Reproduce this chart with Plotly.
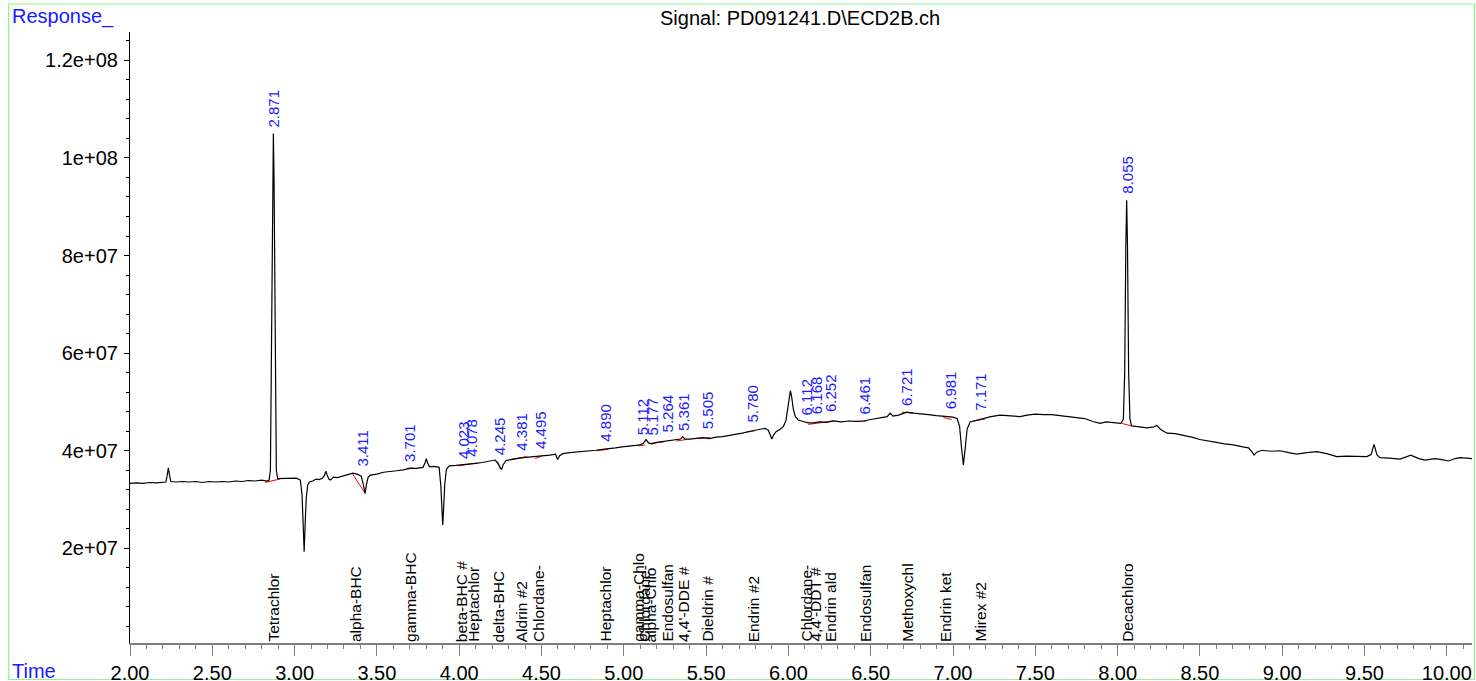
import plotly.graph_objects as go

# ---------------- data ----------------
time_min = [2.000, 2.04, 2.08, 2.12, 2.16, 2.20, 2.218, 2.226, 2.233, 2.240, 2.248, 2.28, 2.32, 2.36, 2.40, 2.44, 2.48, 2.52, 2.56, 2.60,
            2.64, 2.68, 2.72, 2.76, 2.80, 2.83, 2.845, 2.853, 2.861, 2.867, 2.871, 2.875, 2.881, 2.889, 2.897, 2.93, 2.97, 3.01,
            3.035, 3.045, 3.052, 3.058, 3.064, 3.071, 3.08, 3.09, 3.11, 3.13, 3.15, 3.17, 3.182, 3.19, 3.198, 3.208, 3.218, 3.235,
            3.26, 3.29, 3.32, 3.353, 3.38, 3.405, 3.418, 3.428, 3.436, 3.446, 3.46, 3.50, 3.54, 3.58, 3.62, 3.66, 3.70, 3.74, 3.78,
            3.792, 3.80, 3.808, 3.82, 3.85, 3.878, 3.888, 3.895, 3.90, 3.905, 3.912, 3.922, 3.94, 3.98, 4.02, 4.06, 4.10, 4.14,
            4.18, 4.218, 4.235, 4.25, 4.258, 4.268, 4.285, 4.31, 4.35, 4.39, 4.43, 4.47, 4.51, 4.55, 4.585, 4.598, 4.61, 4.63,
            4.67, 4.71, 4.75, 4.79, 4.83, 4.87, 4.91, 4.95, 4.99, 5.03, 5.07, 5.10, 5.12, 5.135, 5.15, 5.17, 5.20, 5.24, 5.28,
            5.33, 5.345, 5.358, 5.372, 5.40, 5.44, 5.48, 5.52, 5.56, 5.60, 5.64, 5.68, 5.72, 5.767, 5.80, 5.835, 5.858, 5.878,
            5.890, 5.899, 5.910, 5.925, 5.95, 5.97, 5.985, 5.995, 6.004, 6.012, 6.020, 6.030, 6.042, 6.06, 6.09, 6.12, 6.152,
            6.19, 6.23, 6.273, 6.32, 6.37, 6.41, 6.455, 6.50, 6.557, 6.60, 6.618, 6.635, 6.67, 6.719, 6.76, 6.80, 6.85, 6.90,
            6.962, 7.00, 7.025, 7.040, 7.052, 7.063, 7.074, 7.086, 7.104, 7.14, 7.185, 7.23, 7.286, 7.33, 7.37, 7.407, 7.45,
            7.50, 7.55, 7.60, 7.65, 7.70, 7.75, 7.80, 7.85, 7.893, 7.93, 7.974, 8.02, 8.035, 8.043, 8.050, 8.055, 8.060, 8.067,
            8.075, 8.085, 8.11, 8.137, 8.18, 8.22, 8.238, 8.26, 8.30, 8.35, 8.40, 8.45, 8.50, 8.542, 8.60, 8.65, 8.704, 8.76,
            8.795, 8.815, 8.829, 8.845, 8.876, 8.93, 8.987, 9.04, 9.088, 9.15, 9.21, 9.27, 9.331, 9.39, 9.45, 9.514, 9.540,
            9.558, 9.575, 9.594, 9.65, 9.716, 9.781, 9.83, 9.868, 9.929, 9.97, 10.01, 10.05, 10.081, 10.12, 10.153]

response = [3.33e7, 3.34e7, 3.33e7, 3.35e7, 3.34e7, 3.35e7, 3.36e7, 3.50e7, 3.65e7, 3.50e7, 3.37e7, 3.36e7, 3.37e7, 3.36e7, 3.37e7, 3.35e7, 3.37e7, 3.36e7, 3.37e7, 3.36e7,
            3.38e7, 3.37e7, 3.39e7, 3.38e7, 3.40e7, 3.38e7, 3.40e7, 3.6e7, 6.6e7, 9.6e7, 1.05e8, 9.6e7, 6.6e7, 3.6e7, 3.43e7, 3.43e7, 3.44e7, 3.44e7,
            3.40e7, 3.1e7, 2.5e7, 1.93e7, 2.5e7, 3.05e7, 3.30e7, 3.36e7, 3.38e7, 3.42e7, 3.41e7, 3.44e7, 3.50e7, 3.58e7, 3.50e7, 3.42e7, 3.40e7, 3.46e7,
            3.45e7, 3.48e7, 3.50e7, 3.54e7, 3.52e7, 3.48e7, 3.30e7, 3.12e7, 3.30e7, 3.45e7, 3.50e7, 3.52e7, 3.56e7, 3.57e7, 3.59e7, 3.61e7, 3.64e7, 3.64e7, 3.66e7,
            3.75e7, 3.84e7, 3.75e7, 3.67e7, 3.68e7, 3.66e7, 3.3e7, 2.8e7, 2.48e7, 2.8e7, 3.3e7, 3.62e7, 3.69e7, 3.70e7, 3.71e7, 3.73e7, 3.74e7, 3.76e7,
            3.78e7, 3.81e7, 3.75e7, 3.64e7, 3.62e7, 3.72e7, 3.80e7, 3.82e7, 3.84e7, 3.86e7, 3.87e7, 3.88e7, 3.90e7, 3.91e7, 3.93e7, 3.82e7, 3.90e7, 3.94e7,
            3.96e7, 3.97e7, 3.98e7, 4.00e7, 4.01e7, 4.03e7, 4.04e7, 4.06e7, 4.08e7, 4.09e7, 4.11e7, 4.12e7, 4.16e7, 4.23e7, 4.16e7, 4.14e7, 4.17e7, 4.19e7, 4.21e7,
            4.22e7, 4.24e7, 4.29e7, 4.24e7, 4.24e7, 4.25e7, 4.27e7, 4.25e7, 4.28e7, 4.29e7, 4.31e7, 4.34e7, 4.36e7, 4.40e7, 4.42e7, 4.45e7, 4.46e7, 4.42e7,
            4.30e7, 4.24e7, 4.32e7, 4.39e7, 4.44e7, 4.50e7, 4.62e7, 4.85e7, 5.15e7, 5.23e7, 5.10e7, 4.85e7, 4.70e7, 4.63e7, 4.60e7, 4.57e7, 4.57e7,
            4.59e7, 4.58e7, 4.61e7, 4.59e7, 4.61e7, 4.60e7, 4.61e7, 4.64e7, 4.68e7, 4.70e7, 4.77e7, 4.71e7, 4.73e7, 4.79e7, 4.77e7, 4.75e7, 4.74e7, 4.72e7,
            4.71e7, 4.69e7, 4.66e7, 4.50e7, 4.05e7, 3.71e7, 4.05e7, 4.45e7, 4.59e7, 4.62e7, 4.66e7, 4.70e7, 4.73e7, 4.72e7, 4.71e7, 4.70e7, 4.73e7,
            4.75e7, 4.74e7, 4.74e7, 4.72e7, 4.70e7, 4.68e7, 4.66e7, 4.60e7, 4.56e7, 4.59e7, 4.58e7, 4.56e7, 4.65e7, 5.6e7, 8.2e7, 9.13e7, 8.2e7, 5.6e7,
            4.65e7, 4.51e7, 4.50e7, 4.49e7, 4.47e7, 4.49e7, 4.52e7, 4.44e7, 4.36e7, 4.35e7, 4.32e7, 4.28e7, 4.23e7, 4.20e7, 4.17e7, 4.14e7, 4.12e7, 4.08e7,
            4.06e7, 3.98e7, 3.91e7, 3.97e7, 4.01e7, 3.99e7, 4.00e7, 3.96e7, 3.93e7, 3.96e7, 3.98e7, 3.94e7, 3.88e7, 3.89e7, 3.88e7, 3.88e7, 3.92e7,
            4.13e7, 3.92e7, 3.86e7, 3.85e7, 3.83e7, 3.91e7, 3.84e7, 3.81e7, 3.84e7, 3.82e7, 3.79e7, 3.84e7, 3.86e7, 3.85e7, 3.84e7]

# integration baselines (red)
base_t0 = [2.820, 3.349, 3.683, 3.995, 4.218, 4.309, 4.461, 4.835, 5.090, 5.160, 5.320, 5.450, 5.747, 6.121, 6.415, 6.689, 6.941, 7.124, 8.025]
base_r0 = [3.35e7, 3.54e7, 3.64e7, 3.69e7, 3.81e7, 3.82e7, 3.84e7, 4.00e7, 4.10e7, 4.15e7, 4.20e7, 4.25e7, 4.38e7, 4.54e7, 4.60e7, 4.79e7, 4.68e7, 4.61e7, 4.56e7]
base_t1 = [2.911, 3.428, 3.720, 4.107, 4.258, 4.410, 4.501, 4.906, 5.130, 5.240, 5.380, 5.524, 5.797, 6.273, 6.476, 6.760, 6.992, 7.195, 8.085]
base_r1 = [3.42e7, 3.13e7, 3.65e7, 3.75e7, 3.62e7, 3.88e7, 3.89e7, 4.03e7, 4.12e7, 4.18e7, 4.23e7, 4.27e7, 4.41e7, 4.61e7, 4.61e7, 4.77e7, 4.64e7, 4.65e7, 4.51e7]

# retention time labels (blue)
rt_text = ["2.871", "3.411", "3.701", "4.023", "4.078", "4.245", "4.381", "4.495", "4.890", "5.112", "5.177",
           "5.264", "5.361", "5.505", "5.780", "6.112", "6.168", "6.252", "6.461", "6.721", "6.981", "7.171", "8.055"]
rt_x = [2.871, 3.411, 3.701, 4.023, 4.078, 4.245, 4.381, 4.495, 4.890, 5.112, 5.177,
        5.264, 5.361, 5.505, 5.780, 6.112, 6.168, 6.252, 6.461, 6.721, 6.981, 7.171, 8.055]
rt_y = [1.061e8, 3.66e7, 3.75e7, 3.81e7, 3.86e7, 3.88e7, 3.98e7, 4.01e7, 4.16e7, 4.30e7, 4.29e7,
        4.36e7, 4.39e7, 4.42e7, 4.56e7, 4.70e7, 4.73e7, 4.77e7, 4.73e7, 4.90e7, 4.83e7, 4.80e7, 9.24e7]

# compound names (black)
cmp_text = ["Tetrachlor", "alpha-BHC", "gamma-BHC", "beta-BHC #", "Heptachlor", "delta-BHC", "Aldrin #2", "Chlordane-",
            "Heptachlor", "gamma-Chlo", "Chlordane-", "alpha-Chlo", "Endosulfan", "4,4'-DDE #", "Dieldrin #", "Endrin #2",
            "Chlordane-", "4,4'-DDT #", "Endrin ald", "Endosulfan", "Methoxychl", "Endrin ket", "Mirex #2", "Decachloro"]
cmp_x = [2.866, 3.367, 3.701, 4.015, 4.086, 4.238, 4.380, 4.481,
         4.886, 5.088, 5.125, 5.165, 5.260, 5.360, 5.503, 5.787,
         6.107, 6.162, 6.253, 6.466, 6.719, 6.952, 7.164, 8.056]

x_tickvals = [2.0, 2.5, 3.0, 3.5, 4.0, 4.5, 5.0, 5.5, 6.0, 6.5, 7.0, 7.5, 8.0, 8.5, 9.0, 9.5, 10.0]
x_ticktext = ["2.00", "2.50", "3.00", "3.50", "4.00", "4.50", "5.00", "5.50", "6.00", "6.50", "7.00",
              "7.50", "8.00", "8.50", "9.00", "9.50", "10.00"]
y_tickvals = [2e7, 4e7, 6e7, 8e7, 1e8, 1.2e8]
y_ticktext = ["2e+07", "4e+07", "6e+07", "8e+07", "1e+08", "1.2e+08"]

X_RANGE = [2.0, 10.153]
Y_RANGE = [6.1e5, 1.258e8]

# ---------------- figure ----------------
FONT = "Liberation Sans, Arial, sans-serif"
fig = go.Figure()

for a, b, c, d in zip(base_t0, base_r0, base_t1, base_r1):
    fig.add_trace(go.Scatter(x=[a, c], y=[b, d], mode="lines",
                             line=dict(color="#ff0000", width=1), hoverinfo="skip", showlegend=False))

fig.add_trace(go.Scatter(x=time_min, y=response, mode="lines",
                         line=dict(color="black", width=1.2), showlegend=False))

for t, x, y in zip(rt_text, rt_x, rt_y):
    fig.add_annotation(x=x, y=y, text=t, textangle=-90, showarrow=False,
                       xanchor="center", yanchor="bottom", borderpad=0,
                       font=dict(family=FONT, size=15, color="#1a1aff"))

for t, x in zip(cmp_text, cmp_x):
    fig.add_annotation(x=x, y=Y_RANGE[0], text=t, textangle=-90, showarrow=False,
                       xanchor="center", yanchor="bottom", borderpad=0,
                       font=dict(family=FONT, size=15.5, color="black"))

W, H = 1476, 681
L, R, T, B = 130, 4, 32, 38
pw, ph = W - L - R, H - T - B

def px(xp):
    return (xp - L) / pw

def py(yp):
    return (H - B - yp) / ph

fig.add_annotation(xref="paper", yref="paper", x=px(10), y=py(17), text="Response_", showarrow=False,
                   xanchor="left", yanchor="middle", font=dict(family=FONT, size=20, color="#1a1aff"))
fig.add_annotation(xref="paper", yref="paper", x=px(10), y=py(671), text="Time", showarrow=False,
                   xanchor="left", yanchor="middle", font=dict(family=FONT, size=20, color="#1a1aff"))
fig.add_annotation(xref="paper", yref="paper", x=px(800), y=py(18), text="Signal: PD091241.D\\ECD2B.ch",
                   showarrow=False, xanchor="center", yanchor="middle",
                   font=dict(family=FONT, size=20, color="black"))

fig.add_shape(type="rect", xref="paper", yref="paper", x0=px(8.7), x1=px(1474.5), y0=py(679.5), y1=py(4),
              line=dict(color="#8cf58c", width=1.2), fillcolor="rgba(0,0,0,0)", layer="below")

fig.update_layout(
    width=W, height=H,
    margin=dict(l=L, r=R, t=T, b=B, pad=0, autoexpand=False),
    paper_bgcolor="white", plot_bgcolor="white",
    font=dict(family=FONT, size=20, color="black"),
    showlegend=False,
    xaxis=dict(range=X_RANGE, showgrid=False, zeroline=False, showline=True, linecolor="#808080", linewidth=1.5,
               automargin=False,
               ticks="outside", ticklen=11, tickcolor="#808080", tickwidth=1.2,
               tickvals=x_tickvals, ticktext=x_ticktext, tickfont=dict(family=FONT, size=20, color="black"),
               minor=dict(dtick=0.1, tick0=2.0, ticks="outside", ticklen=4, tickcolor="#808080", tickwidth=1.2)),
    yaxis=dict(range=Y_RANGE, showgrid=False, zeroline=False, showline=True, linecolor="black", linewidth=1.2,
               automargin=False,
               ticks="outside", ticklen=5, tickcolor="black", tickwidth=1, ticklabelstandoff=2,
               tickvals=y_tickvals, ticktext=y_ticktext, tickfont=dict(family=FONT, size=20, color="black"),
               minor=dict(dtick=4e6, tick0=0, ticks="outside", ticklen=3, tickcolor="black", tickwidth=1)),
)

fig.write_html("out.html", config={"displayModeBar": False},
               post_script="document.body.style.margin='0';document.body.style.overflow='hidden';")
